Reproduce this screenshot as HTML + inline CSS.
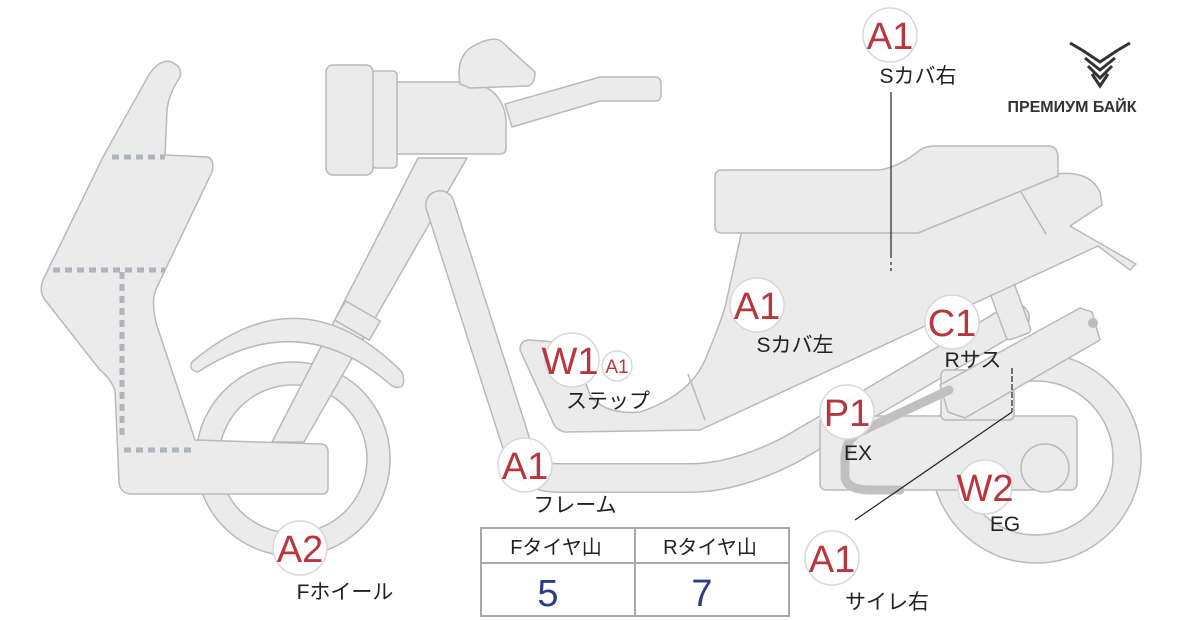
<!DOCTYPE html>
<html><head><meta charset="utf-8"><style>
html,body{margin:0;padding:0;background:#fff;}
svg{display:block}
text{font-family:"Liberation Sans","Noto Sans CJK JP",sans-serif;}
</style></head><body>
<svg width="1200" height="620" viewBox="0 0 1200 620" xmlns="http://www.w3.org/2000/svg">
<g fill="#ebebeb" stroke="#b9b9b9" stroke-width="1.5" stroke-linejoin="round">
<!-- rear wheel -->
<path fill-rule="evenodd" d="M1036,353 a105,105 0 1,0 0.1,0 Z M1036,381 a77,77 0 1,1 -0.1,0 Z"/>
<!-- front wheel -->
<path fill-rule="evenodd" d="M293,362 a97,97 0 1,0 0.1,0 Z M293,385 a74,74 0 1,1 -0.1,0 Z"/>
<!-- fork -->
<polygon points="418,158 467,158 304,442 272,442"/>
<rect x="-20" y="0" width="40" height="22" transform="translate(363,311) rotate(30)"/>
<!-- fender -->
<path d="M192,362 Q300,270 402,372 Q408,392 392,386 Q300,305 198,372 Q188,370 192,362 Z"/>
<!-- frame tube -->
<path d="M440,205 L520,455 Q526,478 560,478 L690,478 Q735,478 790,450 L1015,318" fill="none" stroke="#b9b9b9" stroke-width="30" stroke-linecap="round"/>
<path d="M440,205 L520,455 Q526,478 560,478 L690,478 Q735,478 790,450 L1015,318" fill="none" stroke="#ebebeb" stroke-width="27" stroke-linecap="round"/>
<!-- engine box -->
<rect x="820" y="416" width="257" height="74" rx="6"/>
<rect x="941" y="370" width="73" height="50" rx="5"/>
<!-- shock -->
<rect x="997" y="283" width="26" height="55" rx="4" transform="rotate(-20 1010 310)"/>
<!-- muffler -->
<polygon points="940,385 1080,308 1092,312 1100,340 965,418 948,412"/>
<circle cx="1093" cy="323" r="5" fill="#bbb" stroke="none"/>
<!-- hub -->
<circle cx="1045" cy="468" r="24"/>
<!-- ex pipe -->
<path d="M949,390 L860,432 Q844,440 845,462 L845,478 Q848,490 870,490 L900,490" fill="none" stroke="#c0c0c0" stroke-width="9" stroke-linecap="round"/>
<!-- body / side cover incl tail -->
<path d="M742,230 L918,230 L1056,174 Q1090,170 1100,192 L1102,205 L1070,226 L1136,264 L1130,270 L1098,246 L1003,290 L700,430 L565,432 Q555,430 552,420 L520,350 Q520,340 530,340 L555,342 Q575,350 590,395 Q605,415 640,412 Q690,395 705,360 Q722,320 726,303 Z"/>
<line x1="688" y1="374" x2="705" y2="420"/>
<line x1="1021" y1="192" x2="1046" y2="234"/>
<!-- seat -->
<path d="M722,170 L875,170 Q895,170 920,150 Q926,146 935,146 L1048,146 Q1058,146 1058,158 L1058,176 L918,233 L722,233 Q715,233 715,226 L715,177 Q715,170 722,170 Z"/>
<!-- front cover -->
<path d="M168,61 Q183,65 180,77 Q168,95 167,111 L165,155 L208,157 Q215,160 212,172 L157,287 Q150,300 157,326 L195,440 L322,444 Q328,445 328,452 L328,488 Q328,494 322,494 L132,494 Q120,494 119,482 L115,390 Q110,378 100,370 L45,300 Q38,290 44,278 L103,157 L146,80 Q155,62 168,61 Z"/>
<!-- headlight / handlebar -->
<path d="M505,104 L600,77 L655,77 Q661,77 661,84 L661,95 Q661,101 655,101 L600,101 L512,127 Z"/>
<path d="M397,82 L470,82 Q503,88 506,120 L506,148 Q506,154 500,154 L397,154 Z"/>
<rect x="372" y="71" width="25" height="97" rx="4"/>
<rect x="326" y="65" width="47" height="110" rx="7"/>
<path d="M460,84 Q455,55 475,45 Q495,35 502,42 L535,72 Q535,84 528,86 L470,88 Z"/>
</g>
<!-- dashed lines on cover -->
<g stroke="#b0b4bd" stroke-width="5" stroke-dasharray="7,5" fill="none">
<line x1="112" y1="157" x2="165" y2="157"/>
<line x1="53" y1="270" x2="165" y2="270"/>
<line x1="122" y1="272" x2="122" y2="440"/>
<line x1="124" y1="450" x2="195" y2="450"/>
</g>
<!-- leader lines -->
<g stroke="#222" stroke-width="1.2" fill="none">
<line x1="891" y1="92" x2="891" y2="258"/>
<line x1="891" y1="262" x2="891" y2="272" stroke-dasharray="3,3"/>
<line x1="1012" y1="368" x2="1012" y2="412" stroke-dasharray="6,2"/>
<line x1="1012" y1="412" x2="855" y2="520"/>
</g>
<!-- badges -->
<g fill="rgba(255,255,255,0.92)" stroke="#d8d8d8" stroke-width="1.5">
<circle cx="890" cy="35" r="27"/>
<circle cx="757" cy="305" r="27"/>
<circle cx="572" cy="360" r="27"/>
<circle cx="617" cy="366" r="15"/>
<circle cx="525" cy="465" r="27"/>
<circle cx="300" cy="548" r="27"/>
<circle cx="952" cy="322" r="27"/>
<circle cx="847" cy="412" r="27"/>
<circle cx="985" cy="487" r="27"/>
<circle cx="832" cy="558" r="27"/>
</g>
<g fill="#b8363e" font-size="38" text-anchor="middle">
<text x="890" y="49">A1</text>
<text x="757" y="319">A1</text>
<text x="570" y="374">W1</text>
<text x="617" y="373" font-size="19">A1</text>
<text x="525" y="479">A1</text>
<text x="300" y="562">A2</text>
<text x="952" y="336">C1</text>
<text x="847" y="426">P1</text>
<text x="985" y="501">W2</text>
<text x="832" y="572">A1</text>
</g>
<g fill="#222" font-size="21" text-anchor="middle">
<text x="918" y="83">Sカバ右</text>
<text x="795" y="352">Sカバ左</text>
<text x="608" y="408">ステップ</text>
<text x="575" y="512">フレーム</text>
<text x="345" y="599">Fホイール</text>
<text x="973" y="367">Rサス</text>
<text x="858" y="460">EX</text>
<text x="1005" y="531">EG</text>
<text x="887" y="609">サイレ右</text>
</g>
<!-- table -->
<g fill="none" stroke="#a8a8a8" stroke-width="2">
<rect x="481" y="528" width="308" height="88"/>
<line x1="481" y1="563" x2="789" y2="563"/>
<line x1="635" y1="528" x2="635" y2="616"/>
</g>
<g font-size="20" fill="#222" text-anchor="middle">
<text x="556" y="554">Fタイヤ山</text>
<text x="710" y="554">Rタイヤ山</text>
</g>
<g font-size="38" fill="#2d3e86" text-anchor="middle">
<text x="548" y="606">5</text>
<text x="702" y="606">7</text>
</g>
<!-- logo -->
<g fill="none" stroke="#333" stroke-width="3">
<path d="M1070,43 L1082,50 M1130,43 L1118,50"/>
<path d="M1082,50 L1100,62 L1118,50 M1085,58 L1100,70 L1115,58 M1088,66 L1100,78 L1112,66 M1092,74 L1100,86 L1108,74"/>
</g>
<text x="1072" y="112" text-anchor="middle" font-size="16" font-weight="bold" fill="#333">ПРЕМИУМ БАЙК</text>
</svg>
</body></html>
